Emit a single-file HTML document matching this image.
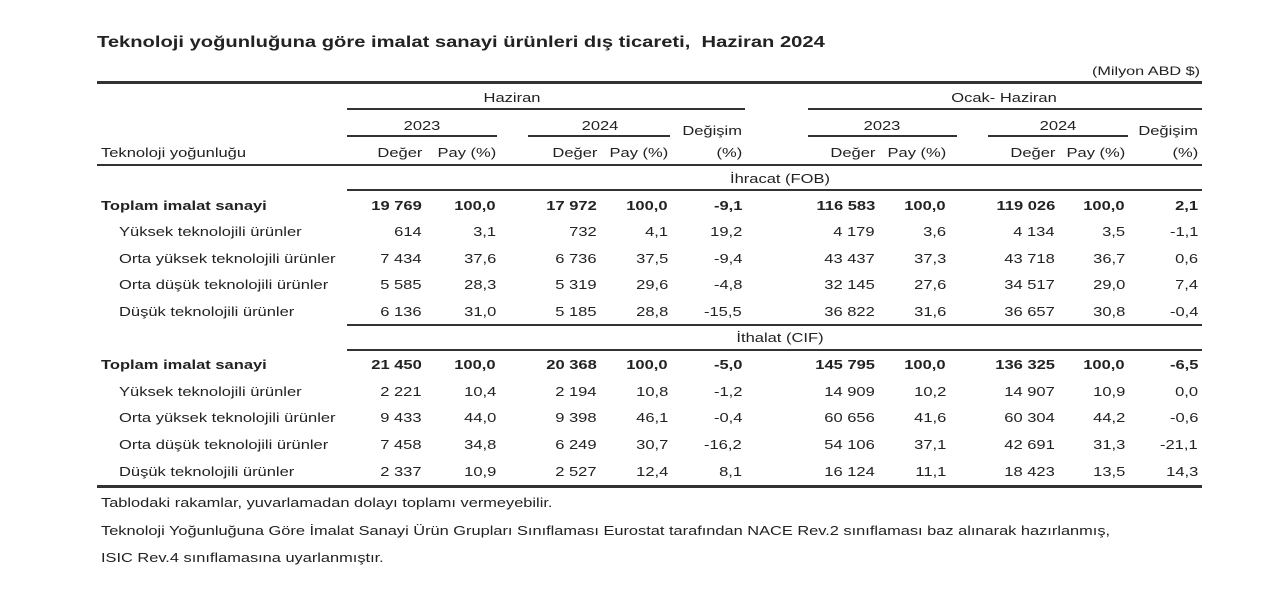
<!DOCTYPE html>
<html><head><meta charset="utf-8"><style>
body{margin:0;width:1280px;height:602px;background:#fff;position:relative;overflow:hidden;font-family:"Liberation Sans",sans-serif;color:#222}
.t{position:absolute;font-size:13px;white-space:nowrap;line-height:16px;transform:scaleX(1.27);transform-origin:left center}
.r{position:absolute;font-size:13px;white-space:nowrap;line-height:16px;transform:scaleX(1.27);transform-origin:right center}
.c{position:absolute;font-size:13px;white-space:nowrap;line-height:16px;transform:translateX(-50%) scaleX(1.27)}
.b{font-weight:bold}
.l{position:absolute;background:#333}
</style></head><body>
<div class="t b" style="left:97px;top:33px;font-size:16px;line-height:20px;transform:scaleX(1.26)">Teknoloji yoğunluğuna göre imalat sanayi ürünleri dış ticareti,&nbsp; Haziran 2024</div>
<div class="r" style="right:80px;top:63px;font-size:12px;transform:scaleX(1.35)">(Milyon ABD $)</div>
<div class="l" style="left:97px;top:81px;width:1105px;height:3px"></div>
<div class="c" style="left:512px;top:90px">Haziran</div>
<div class="c" style="left:1004px;top:90px">Ocak- Haziran</div>
<div class="l" style="left:347px;top:108px;width:398px;height:2px"></div>
<div class="l" style="left:808px;top:108px;width:394px;height:2px"></div>
<div class="c" style="left:422px;top:118px">2023</div>
<div class="c" style="left:600px;top:118px">2024</div>
<div class="c" style="left:882px;top:118px">2023</div>
<div class="c" style="left:1058px;top:118px">2024</div>
<div class="r" style="right:538px;top:123px">Değişim</div>
<div class="r" style="right:82px;top:123px">Değişim</div>
<div class="l" style="left:347px;top:135px;width:150px;height:2px"></div>
<div class="l" style="left:528px;top:135px;width:142px;height:2px"></div>
<div class="l" style="left:808px;top:135px;width:149px;height:2px"></div>
<div class="l" style="left:988px;top:135px;width:140px;height:2px"></div>
<div class="t" style="left:101px;top:145px">Teknoloji yoğunluğu</div>
<div id="hdr"></div>
<div class="l" style="left:97px;top:164px;width:1105px;height:2px"></div>
<div class="c" style="left:780px;top:171px">İhracat (FOB)</div>
<div class="l" style="left:347px;top:189px;width:855px;height:2px"></div>
<div class="l" style="left:347px;top:324px;width:855px;height:2px"></div>
<div class="c" style="left:780px;top:330px">İthalat (CIF)</div>
<div class="l" style="left:347px;top:349px;width:855px;height:2px"></div>
<div class="l" style="left:97px;top:485px;width:1105px;height:3px"></div>
<div id="rows"></div>
<div class="t" style="left:101px;top:495px;font-size:12.5px;transform:scaleX(1.31)">Tablodaki rakamlar, yuvarlamadan dolayı toplamı vermeyebilir.</div>
<div class="t" style="left:101px;top:523px;font-size:12.5px;transform:scaleX(1.31)">Teknoloji Yoğunluğuna Göre İmalat Sanayi Ürün Grupları Sınıflaması Eurostat tarafından NACE Rev.2 sınıflaması baz alınarak hazırlanmış,</div>
<div class="t" style="left:101px;top:550px;font-size:12.5px;transform:scaleX(1.31)">ISIC Rev.4 sınıflamasına uyarlanmıştır.</div>
<script>
var xs=[422,496,597,668,742,875,946,1055,1125,1198];
function R(x,y,v,b){return '<div class="r'+b+'" style="right:'+(1280-x)+'px;top:'+y+'px">'+v+'</div>';}
var hd=["Değer","Pay (%)","Değer","Pay (%)","(%)","Değer","Pay (%)","Değer","Pay (%)","(%)"],hh="";
hd.forEach(function(v,i){hh+=R(xs[i],145,v,"");});
document.getElementById("hdr").innerHTML=hh;
var rows=[
[198,1,"Toplam imalat sanayi",["19 769","100,0","17 972","100,0","-9,1","116 583","100,0","119 026","100,0","2,1"]],
[224,0,"Yüksek teknolojili ürünler",["614","3,1","732","4,1","19,2","4 179","3,6","4 134","3,5","-1,1"]],
[251,0,"Orta yüksek teknolojili ürünler",["7 434","37,6","6 736","37,5","-9,4","43 437","37,3","43 718","36,7","0,6"]],
[277,0,"Orta düşük teknolojili ürünler",["5 585","28,3","5 319","29,6","-4,8","32 145","27,6","34 517","29,0","7,4"]],
[304,0,"Düşük teknolojili ürünler",["6 136","31,0","5 185","28,8","-15,5","36 822","31,6","36 657","30,8","-0,4"]],
[357,1,"Toplam imalat sanayi",["21 450","100,0","20 368","100,0","-5,0","145 795","100,0","136 325","100,0","-6,5"]],
[384,0,"Yüksek teknolojili ürünler",["2 221","10,4","2 194","10,8","-1,2","14 909","10,2","14 907","10,9","0,0"]],
[410,0,"Orta yüksek teknolojili ürünler",["9 433","44,0","9 398","46,1","-0,4","60 656","41,6","60 304","44,2","-0,6"]],
[437,0,"Orta düşük teknolojili ürünler",["7 458","34,8","6 249","30,7","-16,2","54 106","37,1","42 691","31,3","-21,1"]],
[464,0,"Düşük teknolojili ürünler",["2 337","10,9","2 527","12,4","8,1","16 124","11,1","18 423","13,5","14,3"]]];
var h="";rows.forEach(function(r){var b=r[1]?" b":"";
h+='<div class="t'+b+'" style="left:'+(r[1]?101:119)+'px;top:'+r[0]+'px">'+r[2]+'</div>';
r[3].forEach(function(v,i){h+=R(xs[i],r[0],v,b);});});
document.getElementById("rows").innerHTML=h;
</script>
</body></html>
